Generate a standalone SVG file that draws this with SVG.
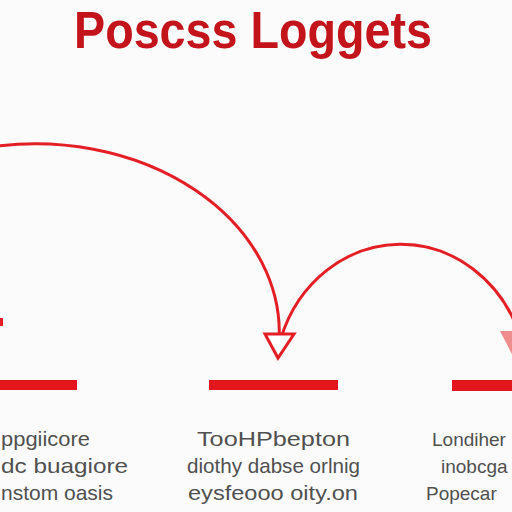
<svg xmlns="http://www.w3.org/2000/svg" width="512" height="512" viewBox="0 0 512 512">
<style>
.bar{fill:#e3161e}
.arc{fill:none;stroke:#e41e25;stroke-width:3;stroke-linecap:round}
.lbl{font-family:"Liberation Sans","Open Sans",sans-serif;font-size:21px;fill:#505050}
.rl{font-family:"Liberation Sans","Open Sans",sans-serif;font-size:19px;fill:#505050}
.title{font-family:"Liberation Sans","Open Sans",sans-serif;font-size:52px;font-weight:bold;fill:#c3141c}
</style>
<rect width="512" height="512" fill="#fbfbfb"/>
<g id="title">
<text class="title" x="74" y="48" textLength="358" lengthAdjust="spacingAndGlyphs">Poscss Loggets</text>
</g>
<g id="connectors">
<path class="arc" d="M -10 147 A 244 189 0 0 1 279 342"/>
<path class="arc" d="M 281 338 A 126.5 138 0 0 1 520 336"/>
<polygon points="265,334 294,334 278,358" fill="#fff" stroke="#e41e25" stroke-width="3" stroke-linejoin="miter"/>
<polygon points="500,331 530,331 515,360" fill="#ef8c8c"/>
<rect x="0" y="318" width="3" height="8" fill="#e41e25"/>
</g>
<g id="node-left">
<rect class="bar" x="-2" y="380" width="79" height="10"/>
<text class="lbl" x="1" y="446" textLength="89" lengthAdjust="spacingAndGlyphs">ppgiicore</text>
<text class="lbl" x="1" y="473" textLength="127" lengthAdjust="spacingAndGlyphs">dc buagiore</text>
<text class="lbl" x="1" y="500" textLength="112" lengthAdjust="spacingAndGlyphs">nstom oasis</text>
</g>
<g id="node-middle">
<rect class="bar" x="209" y="380" width="129" height="10"/>
<text class="lbl" x="197" y="446" textLength="153" lengthAdjust="spacingAndGlyphs">TooHPbepton</text>
<text class="lbl" x="187" y="473" textLength="173" lengthAdjust="spacingAndGlyphs">diothy dabse orlnig</text>
<text class="lbl" x="188" y="500" textLength="170" lengthAdjust="spacingAndGlyphs">eysfeooo oity.on</text>
</g>
<g id="node-right">
<rect class="bar" x="452" y="380" width="62" height="11"/>
<text class="rl" x="432" y="446">Londiher</text>
<text class="rl" x="441" y="473">inobcga</text>
<text class="rl" x="426" y="500">Popecar</text>
</g>
</svg>
